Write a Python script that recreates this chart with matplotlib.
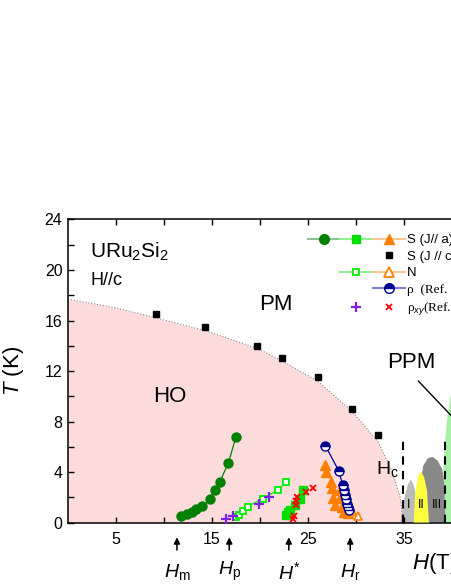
import numpy as np
import matplotlib
matplotlib.use("Agg")
import matplotlib.pyplot as plt
from matplotlib.lines import Line2D
from matplotlib.legend_handler import HandlerTuple
from matplotlib.ticker import FixedLocator, MultipleLocator

plt.rcParams['font.family'] = ['Liberation Sans', 'DejaVu Sans']
plt.rcParams['mathtext.fontset'] = 'custom'
plt.rcParams['mathtext.rm'] = 'Liberation Sans'
plt.rcParams['mathtext.it'] = 'Liberation Sans:italic'

# HO phase boundary
ho_H = [0, 5, 9.2, 14.3, 19.7, 22.3, 26.0, 29.6, 32.3, 33.8, 34.6, 34.9]
ho_T = [17.7, 17.0, 16.2, 15.2, 13.8, 12.8, 11.2, 8.8, 6.4, 4.0, 2.0, 0.0]

# S (J // c), black squares
sc_H = [9.2, 14.3, 19.7, 22.3, 26.0, 29.6, 32.3]
sc_T = [16.5, 15.5, 14.0, 13.0, 11.5, 9.0, 6.9]

# S (J // a), green circles
sa1_H = [11.8, 12.4, 12.9, 13.3, 14.0, 14.8, 15.3, 15.8, 16.7, 17.5]
sa1_T = [0.52, 0.65, 0.86, 1.07, 1.3, 1.87, 2.6, 3.2, 4.7, 6.8]

# S (J // a), bright green squares
sa2_H = [22.7, 22.9, 23.1, 23.6, 24.2, 24.5]
sa2_T = [0.6, 0.8, 1.0, 1.4, 1.9, 2.6]

# S (J // a), orange triangles
sa3_H = [26.8, 26.9, 27.4, 27.5, 28.3, 27.6, 28.3, 27.8, 28.5, 28.7, 29.2]
sa3_T = [4.56, 4.03, 3.24, 2.71, 2.58, 1.92, 1.92, 1.39, 1.25, 0.86, 0.73]

# Nernst, open squares and open triangles
n1_H = [17.5, 17.8, 18.2, 18.7, 20.3, 21.9, 22.7]
n1_T = [0.46, 0.6, 0.9, 1.25, 1.9, 2.6, 3.2]
n2_H = [28.9, 29.6, 30.2]
n2_T = [1.6, 0.9, 0.5]

# rho
rho_H = [26.8, 28.2, 28.6, 28.8, 28.9, 29.0, 29.1, 29.2, 29.3]
rho_T = [6.1, 4.1, 3.0, 2.6, 2.2, 1.85, 1.5, 1.2, 1.0]

# rho_xy
rxy1_H = [16.5, 17.2, 19.9, 20.9]
rxy1_T = [0.28, 0.5, 1.5, 2.0]
rxy2_H = [23.4, 23.5, 23.7, 23.8, 23.9, 24.8, 25.5]
rxy2_T = [0.3, 0.55, 1.4, 1.7, 2.0, 2.4, 2.7]

# high field phases
ph1_H = [34.6, 35.0, 35.4, 35.7, 36.0, 36.3, 36.5]
ph1_T = [0.0, 1.8, 3.0, 3.4, 3.0, 2.0, 0.0]
ph3_H = [36.6, 36.7, 37.0, 37.5, 38.0, 38.5, 39.0, 39.2, 39.3]
ph3_T = [0.0, 3.0, 4.5, 5.1, 5.2, 4.9, 4.2, 3.0, 0.0]
ph2_H = [36.0, 36.2, 36.5, 36.8, 37.1, 37.4, 37.6]
ph2_T = [0.0, 2.5, 3.8, 4.0, 3.6, 2.5, 0.0]
ppm_T = [0, 3, 5, 8, 11, 24]
ppm_H = [38.9, 39.0, 39.1, 39.4, 40.0, 40.0]

arrow_H = [11.35, 16.8, 23.0, 29.4]
arrow_lbl = [r'$H_\mathrm{m}$', r'$H_\mathrm{p}$', r'$H^{*}$', r'$H_\mathrm{r}$']

fig = plt.figure(figsize=(4.52, 5.85), dpi=100)
ax = fig.add_axes([0.1504, 0.1068, 0.8496, 0.518])

ax.fill_between(ho_H, ho_T, 0, color='#ffdcdc', lw=0, zorder=0)
ax.plot(ho_H, ho_T, ls=':', color='#888888', lw=0.8, zorder=1)

ax.fill_betweenx(ppm_T, ppm_H, 40, color='#a8f0a8', lw=0, zorder=1)
ax.fill(ph1_H, ph1_T, color='#bbbbbb', lw=0, zorder=1)
ax.fill(ph3_H, ph3_T, color='#888888', lw=0, zorder=2)
ax.fill(ph2_H, ph2_T, color='#ffff40', lw=0, zorder=3)
for x in [34.9, 39.3]:
    ax.plot([x, x], [0, 6.5], ls=(0, (4, 3)), color='k', lw=1.5, zorder=4)
for s, x in zip(['I', 'II', 'III'], [35.45, 36.75, 38.4]):
    ax.text(x, 1.4, s, ha='center', va='center', fontsize=9, zorder=5)

ax.plot(sc_H, sc_T, 's', color='k', ms=5, ls='none', zorder=6)
ax.plot(sa1_H, sa1_T, 'o-', color='#008000', lw=0.9, ms=6.5, zorder=6)
ax.plot(sa2_H, sa2_T, 's', color='#00dd00', ms=5.5, ls='none', zorder=6)
ax.plot(n1_H, n1_T, 's-', color='#00ee00', mfc='white', mew=1.3, lw=0.9, ms=4.5, zorder=6)
ax.plot(rxy1_H, rxy1_T, '+', color='#8020e0', ms=7, mew=1.6, ls='none', zorder=7)
ax.plot(rxy2_H, rxy2_T, 'x', color='#ff0000', ms=5, mew=1.3, ls='none', zorder=7)
ax.plot(sa3_H, sa3_T, '^', color='#ff8000', ms=6.5, ls='none', zorder=6)
ax.plot(n2_H, n2_T, '^', color='#ff8000', mfc='white', mew=1.2, ms=6, ls='none', zorder=6)
ax.plot(rho_H, rho_T, 'o-', color='#000090', lw=0.9, ms=6.5, fillstyle='top',
        mfc='#000090', mfcalt='white', mec='#000090', zorder=7)

ax.text(2.3, 21.4, r'URu$_2$Si$_2$', fontsize=15, va='center')
ax.text(2.3, 19.2, 'H//c', fontsize=13, va='center')
ax.text(21.7, 17.3, 'PM', fontsize=16, ha='center', va='center')
ax.text(10.6, 10.0, 'HO', fontsize=16, ha='center', va='center')
ax.text(35.8, 12.7, 'PPM', fontsize=16, ha='center', va='center')
ax.plot([36.5, 40.0], [11.2, 8.4], color='k', lw=1.0, zorder=5, clip_on=False)
ax.text(32.1, 4.2, r'H$_\mathrm{c}$', fontsize=14, va='center')

for x, lbl in zip(arrow_H, arrow_lbl):
    ax.annotate('', xy=(x, -0.95), xytext=(x, -2.4), annotation_clip=False,
                arrowprops=dict(arrowstyle='-|>', color='k', lw=1.1, mutation_scale=9))
    ax.text(x, -3.9, lbl, ha='center', va='center', fontsize=14, clip_on=False)

ax.set_xlim(0, 40)
ax.set_ylim(0, 24)
ax.xaxis.set_major_locator(FixedLocator([5, 15, 25, 35]))
ax.xaxis.set_minor_locator(FixedLocator([10, 20, 30]))
ax.yaxis.set_major_locator(MultipleLocator(4))
ax.yaxis.set_minor_locator(MultipleLocator(2))
ax.tick_params(which='both', direction='in', length=4.5, width=1, top=True, right=False,
               labelsize=11.5)
ax.tick_params(axis='x', pad=7)
ax.tick_params(axis='y', pad=4)
for sp in ['left', 'bottom', 'top']:
    ax.spines[sp].set_linewidth(1.1)
ax.spines['right'].set_visible(False)

ax.set_ylabel(r'$T$ (K)', fontsize=16)
ax.yaxis.set_label_coords(-0.11, 0.5)
fig.text(411.7 / 452, 1 - 564 / 585, r'$H$(T)', fontsize=16, va='center', ha='left')

# legend
blank = Line2D([], [], ls='none')
h_c = Line2D([], [], color='#90c090', lw=1.5, marker='o', ms=7, mfc='#008000', mec='#008000')
h_s = Line2D([], [], color='#90f090', lw=1.5, marker='s', ms=6, mfc='#00dd00', mec='#00dd00')
h_t = Line2D([], [], color='#ffc890', lw=1.5, marker='^', ms=7, mfc='#ff8000', mec='#ff8000')
h_k = Line2D([], [], ls='none', marker='s', ms=5, color='k')
h_os = Line2D([], [], color='#90f090', lw=1.5, marker='s', ms=5, mfc='white', mec='#00ee00', mew=1.3)
h_ot = Line2D([], [], color='#ffc890', lw=1.5, marker='^', ms=7, mfc='white', mec='#ff8000', mew=1.3)
h_r = Line2D([], [], color='#8080d0', lw=1.5, marker='o', ms=7, fillstyle='top',
             mfc='#000090', mfcalt='white', mec='#000090')
h_p = Line2D([], [], ls='none', marker='+', ms=7, mew=1.6, color='#8020e0')
h_x = Line2D([], [], ls='none', marker='x', ms=5, mew=1.3, color='#ff0000')
handles = [(h_c, h_s, h_t), (blank, blank, h_k), (blank, h_os, h_ot), (blank, blank, h_r),
           (blank, h_p, h_x)]
labels = ['S (J// a)', 'S (J // c)', 'N', 'ρ  (Ref.', r'ρ$_{xy}$(Ref.']
leg = fig.legend(handles, labels, handler_map={tuple: HandlerTuple(ndivide=None, pad=0)},
                 loc='upper left', bbox_to_anchor=(308 / 452, 1 - 234 / 585),
                 frameon=False, fontsize=9.5, handlelength=7.35, handletextpad=0.12,
                 labelspacing=0.33, borderpad=0, borderaxespad=0)
for t in leg.get_texts()[3:]:
    t.set_family(['Liberation Serif', 'DejaVu Serif'])

fig.savefig('out.png', dpi=100)
